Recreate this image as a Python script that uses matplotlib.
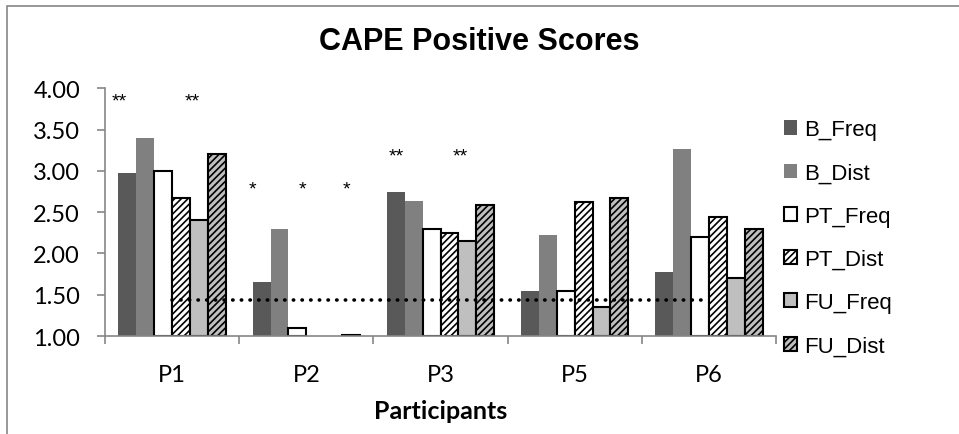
import numpy as np
import matplotlib.pyplot as plt
from matplotlib.patches import Rectangle

plt.rcParams['hatch.linewidth'] = 1.2

# Scores per participant
participants = ['P1', 'P2', 'P3', 'P5', 'P6']
b_freq  = [2.98, 1.65, 2.75, 1.55, 1.77]
b_dist  = [3.40, 2.30, 2.63, 2.22, 3.27]
pt_freq = [3.00, 1.10, 2.30, 1.55, 2.20]
pt_dist = [2.67, 1.00, 2.25, 2.62, 2.44]
fu_freq = [2.40, 1.00, 2.15, 1.35, 1.70]
fu_dist = [3.20, 1.01, 2.59, 2.67, 2.30]

# Cut-off line and significance marks
cutoff = 1.43
cutoff_span = [0, 3.94]
star_x = [-0.395, 0.149, 0.596, 0.969, 1.30, 1.67, 2.146]
star_y = [3.79, 3.79, 2.73, 2.73, 2.73, 3.12, 3.12]
star_txt = ['**', '**', '*', '*', '*', '**', '**']

series = [
    ('B_Freq',  b_freq,  dict(color='#595959', edgecolor='none')),
    ('B_Dist',  b_dist,  dict(color='#808080', edgecolor='none')),
    ('PT_Freq', pt_freq, dict(facecolor='white', edgecolor='black')),
    ('PT_Dist', pt_dist, dict(facecolor='white', edgecolor='black', hatch='/////')),
    ('FU_Freq', fu_freq, dict(facecolor='#BFBFBF', edgecolor='black')),
    ('FU_Dist', fu_dist, dict(facecolor='#BFBFBF', edgecolor='black', hatch='/////')),
]

fig = plt.figure(figsize=(9.59, 4.35), dpi=100)
ax = fig.add_axes([105/959, 1-337/435, (776-105)/959, (337-89.3)/435])

x = np.arange(len(participants))
w = 1/7.5
for i, (name, vals, style) in enumerate(series):
    vals = np.array(vals)
    lw = np.where(vals > 1.0, 1.5, 0.0)
    ax.bar(x + (i-2.5)*w, vals-1.0, w, bottom=1.0, label=name,
           linewidth=lw, **style)

ax.plot(cutoff_span, [cutoff, cutoff], color='black', lw=2.6,
        linestyle=(0, (0.1, 2.3)), dash_capstyle='round', zorder=5)

for sx, sy, t in zip(star_x, star_y, star_txt):
    ax.text(sx, sy, t, ha='center', va='baseline', fontsize=14,
            family='Liberation Sans')

ax.set_xlim(-0.5, 4.5)
ax.set_ylim(1.0, 4.0)
ax.set_yticks(np.arange(1.0, 4.01, 0.5))
ax.set_yticklabels(['%.2f' % v for v in np.arange(1.0, 4.01, 0.5)],
                   family='Lato', fontsize=17)
ax.set_xticks(x)
ax.set_xticklabels(participants, family='Lato', fontsize=17)
ax.set_xticks(np.arange(-0.5, 4.6, 1), minor=True)
ax.tick_params(axis='x', which='major', length=0, pad=20)
ax.tick_params(axis='x', which='minor', length=6, width=1.2,
               color='#868686', direction='out')
ax.tick_params(axis='y', length=6, width=1.2, color='#868686',
               direction='out', pad=12)
for s in ['top', 'right']:
    ax.spines[s].set_visible(False)
for s in ['left', 'bottom']:
    ax.spines[s].set_color('#868686')
    ax.spines[s].set_linewidth(1.2)

ax.set_xlabel('Participants', family='Lato', fontsize=18,
              fontweight='bold', labelpad=10)

leg = fig.legend(loc='center left', bbox_to_anchor=(784/959, 1-238.9/435),
                 frameon=False, borderpad=0, borderaxespad=0,
                 handlelength=0.6, handleheight=0.6, handletextpad=0.3,
                 labelspacing=1.0,
                 prop={'family': 'Liberation Sans', 'size': 16})

fig.text(0.5, 1-42/435, 'CAPE Positive Scores', ha='center', va='center',
         fontsize=22, fontweight='bold', family='Liberation Sans')

# chart area border
fig.add_artist(Rectangle((7/959, -0.1), 1.2, 1-7/435+0.1,
                         transform=fig.transFigure, fill=False,
                         edgecolor='#868686', linewidth=1.2))

fig.savefig('out.png', dpi=100)
